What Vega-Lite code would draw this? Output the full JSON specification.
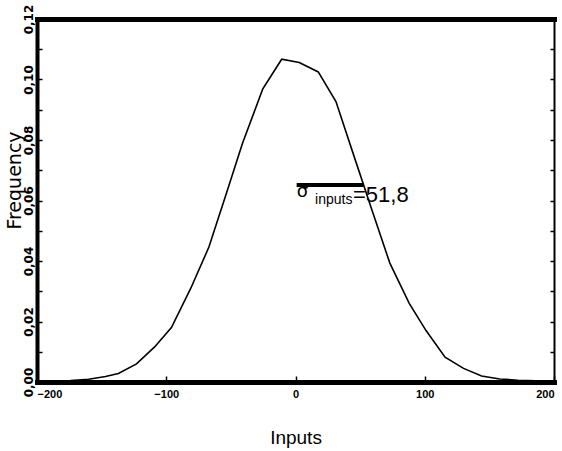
{
  "$schema": "https://vega.github.io/schema/vega-lite/v6.json",
  "width": 517,
  "height": 363,
  "autosize": {"type": "none"},
  "padding": {"left": 37, "top": 19, "right": 8, "bottom": 69},
  "background": "white",
  "config": {"view": {"stroke": null}},
  "datasets": {
    "curve": [
      {"input": -200, "frequency": 0.0002},
      {"input": -187, "frequency": 0.0003},
      {"input": -174, "frequency": 0.0005},
      {"input": -160, "frequency": 0.0009},
      {"input": -147, "frequency": 0.0018},
      {"input": -137, "frequency": 0.0028},
      {"input": -123, "frequency": 0.006},
      {"input": -109, "frequency": 0.0116},
      {"input": -96, "frequency": 0.018},
      {"input": -81, "frequency": 0.031},
      {"input": -67, "frequency": 0.0446},
      {"input": -53, "frequency": 0.063},
      {"input": -41, "frequency": 0.0789},
      {"input": -25.4, "frequency": 0.0968},
      {"input": -10.7, "frequency": 0.1067},
      {"input": 2.9, "frequency": 0.1056},
      {"input": 17.6, "frequency": 0.1025},
      {"input": 31.3, "frequency": 0.0927},
      {"input": 45, "frequency": 0.075},
      {"input": 59, "frequency": 0.057},
      {"input": 73, "frequency": 0.0393},
      {"input": 88, "frequency": 0.026},
      {"input": 101, "frequency": 0.017},
      {"input": 115.7, "frequency": 0.0082},
      {"input": 130, "frequency": 0.0045},
      {"input": 144, "frequency": 0.002},
      {"input": 158, "frequency": 0.001},
      {"input": 172, "frequency": 0.0006},
      {"input": 186, "frequency": 0.0004},
      {"input": 200, "frequency": 0.0003}
    ],
    "overline": [{"x1": 0.9, "x2": 52.5, "y": 0.0651}],
    "labels": [
      {"x": 1.0, "y": 0.0612, "text": "σ", "part": "sigma"},
      {"x": 15.1, "y": 0.0588, "text": "inputs", "part": "sub"},
      {"x": 44.5, "y": 0.0594, "text": "=51,8", "part": "value"}
    ]
  },
  "layer": [
    {
      "data": {"name": "curve"},
      "mark": {"type": "line", "color": "black", "strokeWidth": 1.6, "clip": true},
      "encoding": {
        "x": {
          "field": "input", "type": "quantitative",
          "scale": {"domain": [-200, 200], "nice": false, "zero": false},
          "axis": {
            "orient": "bottom",
            "values": [-200, -100, 0, 100, 200],
            "title": "Inputs",
            "titleFont": "Liberation Sans, Arial, sans-serif",
            "titleFontSize": 19,
            "titleFontWeight": "normal",
            "titleColor": "black",
            "titleY": 55,
            "titleBaseline": "middle",
            "domainColor": "black",
            "domainWidth": 5,
            "domainCap": "square",
            "ticks": true,
            "tickColor": "black",
            "tickSize": -6,
            "tickWidth": 1.5,
            "grid": false,
            "labelFont": "Liberation Sans, Arial, sans-serif",
            "labelFontWeight": "bold",
            "labelFontSize": 11,
            "labelColor": "black",
            "labelPadding": 12,
            "labelAlign": {"expr": "datum.value == -200 ? 'left' : datum.value == 200 ? 'right' : 'center'"},
            "labelDx": {"expr": "datum.value == -200 ? 3 : datum.value == 200 ? 8 : 0"}
          }
        },
        "y": {
          "field": "frequency", "type": "quantitative",
          "scale": {"domain": [0, 0.12], "nice": false},
          "axis": {
            "orient": "left",
            "values": [0, 0.01, 0.02, 0.03, 0.04, 0.05, 0.06, 0.07, 0.08, 0.09, 0.1, 0.11, 0.12],
            "labelExpr": "round(datum.value*100) % 2 == 0 ? replace(format(datum.value, '.2f'), '.', ',') : ''",
            "title": "Frequency",
            "titleFont": "DejaVu Sans, sans-serif",
            "titleFontSize": 19,
            "titleFontWeight": "normal",
            "titleColor": "black",
            "titleAngle": -90,
            "titleX": -23,
            "titleY": 161,
            "titleAlign": "center",
            "titleBaseline": "middle",
            "domainColor": "black",
            "domainWidth": 4,
            "domainCap": "square",
            "tickColor": "black",
            "tickSize": -5,
            "tickWidth": 1.5,
            "grid": false,
            "labelAngle": -90,
            "labelFont": "DejaVu Sans, sans-serif",
            "labelFontWeight": "bold",
            "labelFontSize": 12,
            "labelColor": "black",
            "labelPadding": 7
          }
        }
      }
    },
    {
      "data": {"name": "overline"},
      "mark": {"type": "rule", "color": "black", "strokeWidth": 4},
      "encoding": {
        "x": {
          "field": "x1", "type": "quantitative",
          "axis": {
            "orient": "top", "labels": false, "ticks": false, "title": null,
            "domainColor": "black", "domainWidth": 5, "domainCap": "square", "grid": false
          }
        },
        "x2": {"field": "x2"},
        "y": {
          "field": "y", "type": "quantitative",
          "axis": {
            "orient": "right", "labels": false, "title": null,
            "values": [0, 0.01, 0.02, 0.03, 0.04, 0.05, 0.06, 0.07, 0.08, 0.09, 0.1, 0.11, 0.12],
            "domainColor": "black", "domainWidth": 2, "tickColor": "black",
            "tickSize": -4, "tickWidth": 1.5, "grid": false
          }
        }
      }
    },
    {
      "data": {"name": "labels"},
      "transform": [{"filter": "datum.part == 'sigma'"}],
      "mark": {"type": "text", "align": "left", "baseline": "alphabetic", "fontSize": 18, "font": "DejaVu Sans, sans-serif", "color": "black"},
      "encoding": {
        "x": {"field": "x", "type": "quantitative", "axis": null},
        "y": {"field": "y", "type": "quantitative", "axis": null},
        "text": {"field": "text"}
      }
    },
    {
      "data": {"name": "labels"},
      "transform": [{"filter": "datum.part == 'sub'"}],
      "mark": {"type": "text", "align": "left", "baseline": "alphabetic", "fontSize": 14, "font": "Liberation Sans, Arial, sans-serif", "color": "black"},
      "encoding": {
        "x": {"field": "x", "type": "quantitative", "axis": null},
        "y": {"field": "y", "type": "quantitative", "axis": null},
        "text": {"field": "text"}
      }
    },
    {
      "data": {"name": "labels"},
      "transform": [{"filter": "datum.part == 'value'"}],
      "mark": {"type": "text", "align": "left", "baseline": "alphabetic", "fontSize": 22, "font": "Liberation Sans, Arial, sans-serif", "color": "black"},
      "encoding": {
        "x": {"field": "x", "type": "quantitative", "axis": null},
        "y": {"field": "y", "type": "quantitative", "axis": null},
        "text": {"field": "text"}
      }
    }
  ],
  "resolve": {"axis": {"x": "independent", "y": "independent"}}
}
